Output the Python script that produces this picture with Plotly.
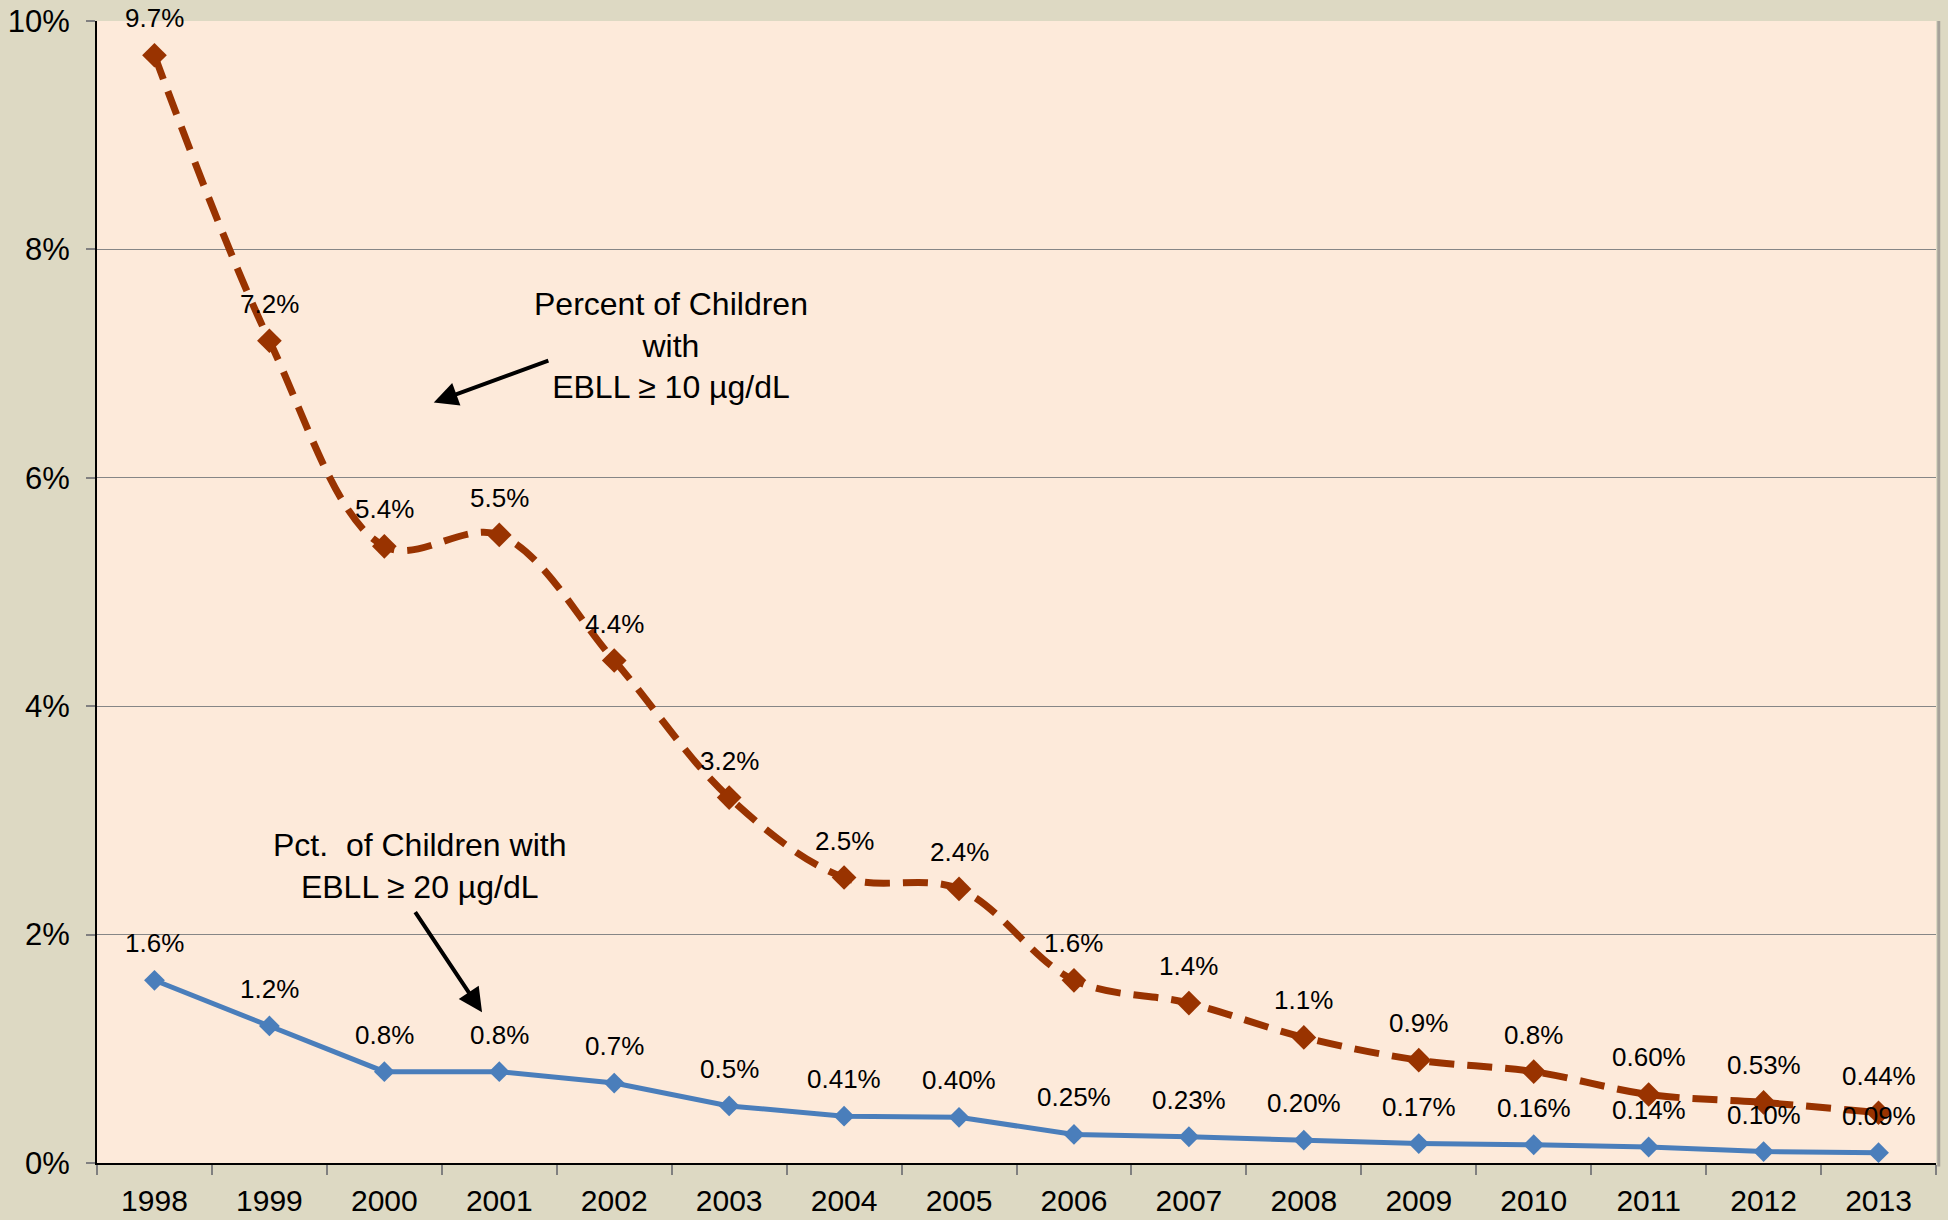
import plotly.graph_objects as go

years = ["1998", "1999", "2000", "2001", "2002", "2003", "2004", "2005",
         "2006", "2007", "2008", "2009", "2010", "2011", "2012", "2013"]
pct_ge10 = [9.7, 7.2, 5.4, 5.5, 4.4, 3.2, 2.5, 2.4, 1.6, 1.4, 1.1, 0.9, 0.8, 0.60, 0.53, 0.44]
lbl_ge10 = ["9.7%", "7.2%", "5.4%", "5.5%", "4.4%", "3.2%", "2.5%", "2.4%", "1.6%", "1.4%",
            "1.1%", "0.9%", "0.8%", "0.60%", "0.53%", "0.44%"]
pct_ge20 = [1.6, 1.2, 0.8, 0.8, 0.7, 0.5, 0.41, 0.40, 0.25, 0.23, 0.20, 0.17, 0.16, 0.14, 0.10, 0.09]
lbl_ge20 = ["1.6%", "1.2%", "0.8%", "0.8%", "0.7%", "0.5%", "0.41%", "0.40%", "0.25%", "0.23%",
            "0.20%", "0.17%", "0.16%", "0.14%", "0.10%", "0.09%"]
y_ticks = [0, 2, 4, 6, 8, 10]
y_tick_labels = ["0%", "2%", "4%", "6%", "8%", "10%"]

FONT = "Liberation Sans, Arial, sans-serif"
RED = "#993300"
BLUE = "#4A7EBB"

fig = go.Figure()
fig.add_trace(go.Scatter(
    x=years, y=pct_ge20, mode="lines+markers",
    line=dict(color=BLUE, width=5),
    marker=dict(symbol="diamond", size=16, color=BLUE),
    showlegend=False, cliponaxis=False))
fig.add_trace(go.Scatter(
    x=years, y=pct_ge10, mode="lines+markers",
    line=dict(color=RED, width=7, dash="25px,13px", shape="spline", smoothing=1.0),
    marker=dict(symbol="diamond", size=19, color=RED),
    showlegend=False, cliponaxis=False))

annotations = []
for ys, ls in ((pct_ge10, lbl_ge10), (pct_ge20, lbl_ge20)):
    for i, (yv, lv) in enumerate(zip(ys, ls)):
        annotations.append(dict(x=i, y=yv, xref="x", yref="y", text=lv, showarrow=False,
                                yshift=37, font=dict(family=FONT, size=26, color="black")))

# callout texts and arrows
annotations.append(dict(x=4.49, y=7.16, xref="x", yref="y", showarrow=False,
                        text="Percent of Children<br>with<br>EBLL ≥ 10 µg/dL",
                        font=dict(family=FONT, size=32, color="black"), align="center"))
annotations.append(dict(x=2.43, y=6.66, ax=3.44, ay=7.03, xref="x", yref="y",
                        axref="x", ayref="y", text="", showarrow=True,
                        arrowhead=2, arrowsize=1.2, arrowwidth=4, arrowcolor="black"))
annotations.append(dict(x=2.31, y=2.60, xref="x", yref="y", showarrow=False,
                        text="Pct.  of Children with<br>EBLL ≥ 20 µg/dL",
                        font=dict(family=FONT, size=32, color="black"), align="center"))
annotations.append(dict(x=2.85, y=1.32, ax=2.26, ay=2.21, xref="x", yref="y",
                        axref="x", ayref="y", text="", showarrow=True,
                        arrowhead=2, arrowsize=1.2, arrowwidth=4, arrowcolor="black"))

fig.update_layout(
    width=1948, height=1220,
    margin=dict(l=97, r=12, t=21, b=57, autoexpand=False),
    paper_bgcolor="#DDD9C3", plot_bgcolor="#FDEADA",
    font=dict(family=FONT, size=30, color="black"),
    annotations=annotations,
    shapes=[dict(type="line", xref="paper", yref="paper", x0=1.0015, x1=1.0015, y0=-0.003, y1=1.0,
                 line=dict(color="#A6A29A", width=3))],
)
fig.update_xaxes(
    type="category", range=[-0.5, 15.5], showgrid=False, automargin=False,
    showline=True, linecolor="black", linewidth=2,
    ticks="outside", tickson="boundaries", ticklen=10, tickcolor="#808080", tickwidth=2,
    tickfont=dict(family=FONT, size=30, color="black"), ticklabelstandoff=10)
fig.update_yaxes(
    range=[0, 10], tickmode="array", tickvals=y_ticks, ticktext=y_tick_labels, automargin=False,
    showgrid=True, gridcolor="#868686", gridwidth=1,
    showline=True, linecolor="black", linewidth=2, zeroline=False,
    ticks="outside", ticklen=9, tickcolor="#808080", tickwidth=2,
    tickfont=dict(family=FONT, size=31, color="black"), ticklabelstandoff=10)

fig.write_html("out.html", config={"displayModeBar": False},
               post_script="document.body.style.margin='0';document.body.style.padding='0';"
                           "document.body.style.overflow='hidden';")
